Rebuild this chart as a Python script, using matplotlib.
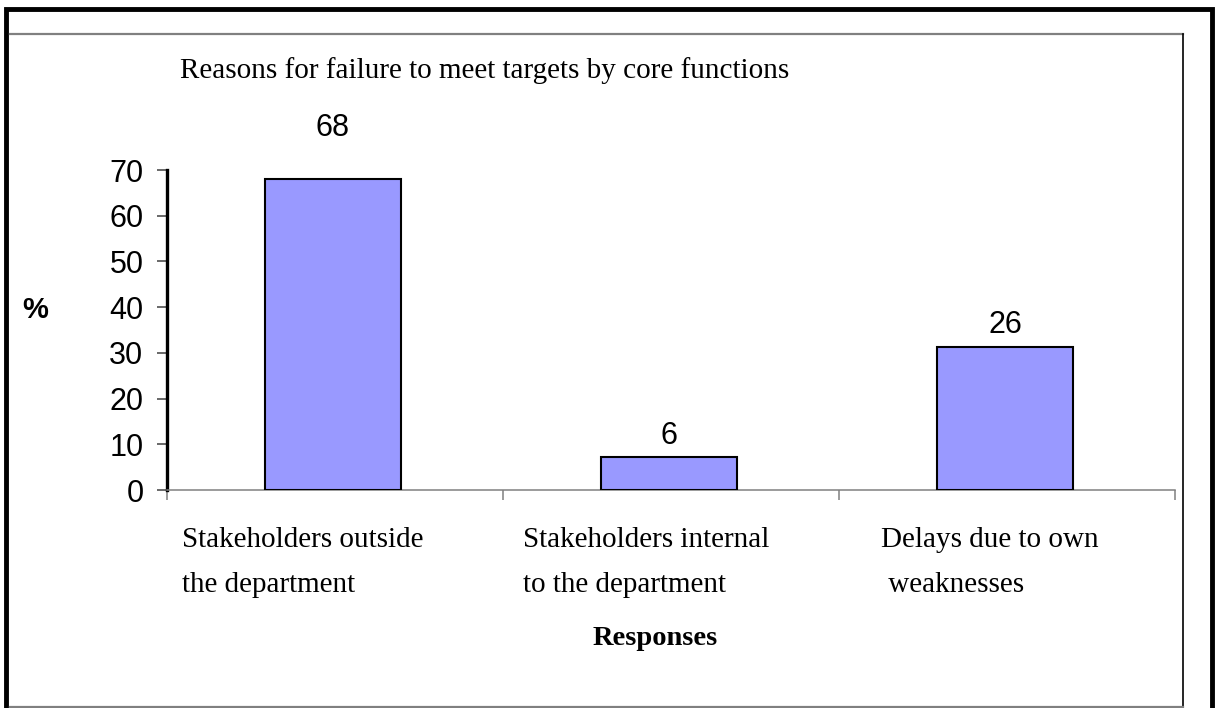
import matplotlib
matplotlib.use('Agg')
import matplotlib.pyplot as plt
from matplotlib.patches import Rectangle
from matplotlib.lines import Line2D

# Chart data
categories = ['Stakeholders outside\nthe department',
              'Stakeholders internal\nto the department',
              'Delays due to own\n weaknesses']
bar_heights = [68, 7.2, 31.3]
bar_labels = ['68', '6', '26']
y_ticks = [0, 10, 20, 30, 40, 50, 60, 70]

W, H = 1217, 708
fig = plt.figure(figsize=(W / 100, H / 100), dpi=100)

def px(x, y):
    # pixel coords (top-left origin) -> figure fraction
    return x / W, 1 - y / H

# outer thick black frame
fig.patches.append(Rectangle(px(6, 712), (1212 - 6) / W, (712 - 9) / H,
                             transform=fig.transFigure, fill=False,
                             edgecolor='black', linewidth=3.5))
# inner chart area border
for (x0, y0, x1, y1, c, lw) in [(10, 34, 1183, 34, '#808080', 1.6),
                                (1183, 34, 1183, 707, 'black', 1.2),
                                (10, 707, 1183, 707, '#808080', 1.6)]:
    a, b = px(x0, y0)
    c2, d = px(x1, y1)
    fig.lines.append(Line2D([a, c2], [b, d], transform=fig.transFigure,
                            color=c, linewidth=lw))

ax = fig.add_axes([167 / W, (H - 490) / H, 1008 / W, 320 / H])
x = list(range(len(categories)))
bars = ax.bar(x, bar_heights, width=0.405, color='#9999FF',
              edgecolor='black', linewidth=1.5, zorder=3)

ax.set_xlim(-0.494, 2.506)
ax.set_ylim(0, 70)

# bar value labels
offsets = [31, 9.5, 10]
for b, lab, off in zip(bars, bar_labels, offsets):
    ax.annotate(lab, (b.get_x() + b.get_width() / 2, b.get_height()),
                xytext=(0, off), textcoords='offset points',
                ha='center', va='baseline', fontsize=22,
                family='Liberation Sans')

# axes styling
for s in ['top', 'right']:
    ax.spines[s].set_visible(False)
ax.spines['left'].set_linewidth(2.4)
ax.spines['left'].set_color('black')
ax.spines['bottom'].set_linewidth(1.1)
ax.spines['bottom'].set_color('#808080')

ax.set_yticks(y_ticks)
ax.set_yticklabels([str(t) for t in y_ticks], family='Liberation Sans',
                   fontsize=22)
ax.tick_params(axis='y', direction='out', length=7, width=1.1,
               color='#404040', pad=10)

ax.set_xticks([-0.494, 0.506, 1.506, 2.506])
ax.set_xticklabels([])
ax.tick_params(axis='x', direction='out', length=7, width=1.1,
               color='#808080')

# category labels (left aligned under each bar)
label_x = [-0.45, -0.435, -0.37]
for xi, cat, lx in zip(x, categories, label_x):
    ax.annotate(cat, (xi + lx, 0), xytext=(0, -102), textcoords='offset pixels',
                ha='left', va='baseline', fontsize=21,
                family='Liberation Serif', linespacing=1.95)

# title and axis labels
fig.text(180 / W, 1 - 78 / H, 'Reasons for failure to meet targets by core functions',
         ha='left', va='baseline', fontsize=21, family='Liberation Serif')
fig.text(655 / W, 1 - 645 / H, 'Responses', ha='center', va='baseline',
         fontsize=20.5, family='Liberation Serif', fontweight='bold')
fig.text(35 / W, 1 - 318 / H, '%', ha='center', va='baseline',
         fontsize=21, family='Liberation Sans', fontweight='bold')

fig.savefig('out.png', dpi=100)
